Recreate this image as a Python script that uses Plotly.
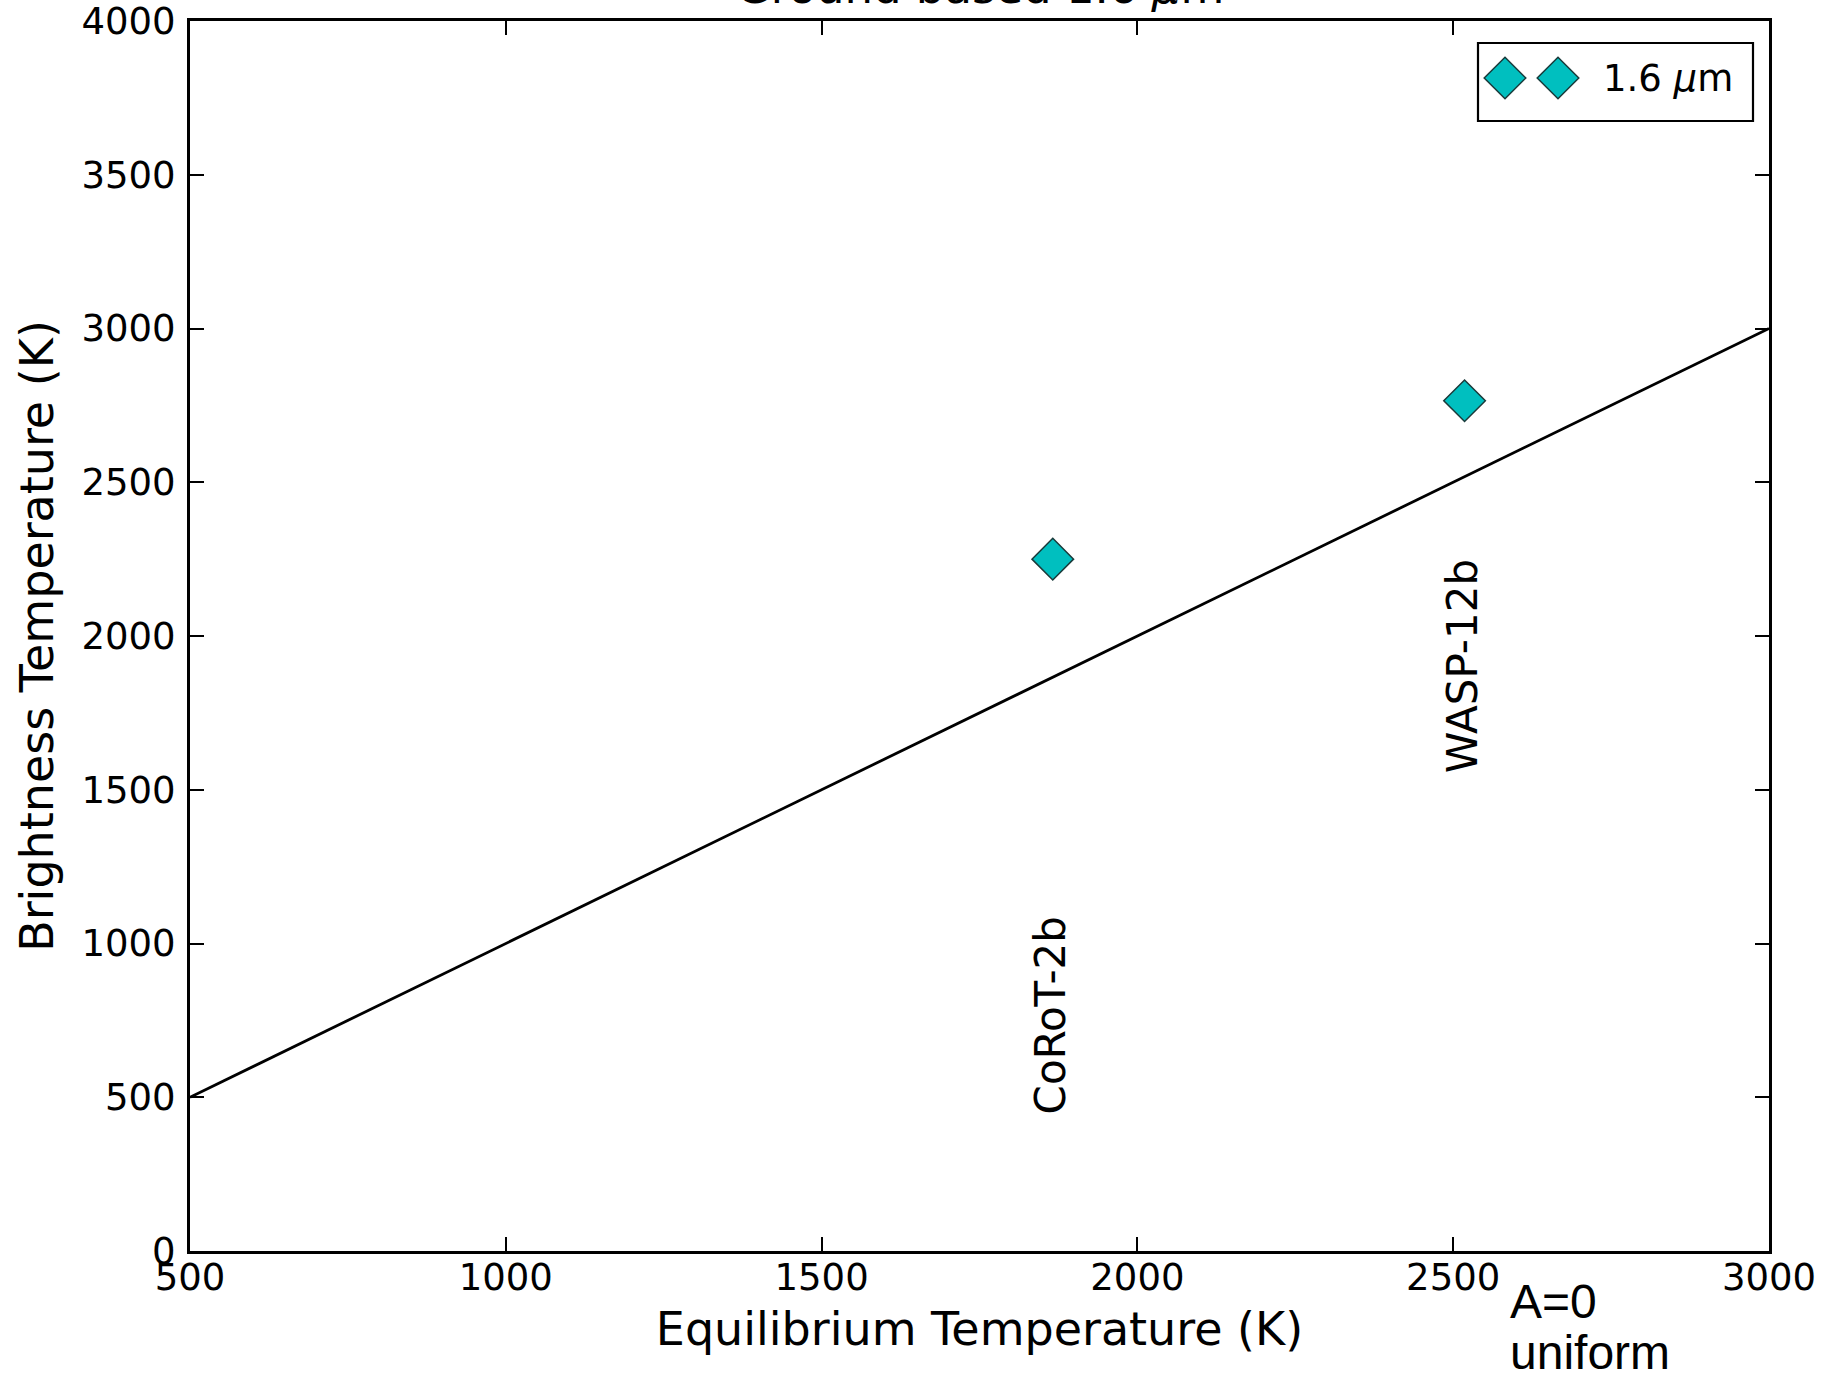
import plotly.graph_objects as go

# ---- data ----
planets = ["CoRoT-2b", "WASP-12b"]
t_eq = [1866, 2518]
t_bright = [2250, 2765]
label_y = [767, 1902]          # vertical centre of rotated planet labels (data units)
one_to_one_x = [500, 3000]
one_to_one_y = [500, 3000]
x_ticks = [500, 1000, 1500, 2000, 2500, 3000]
y_ticks = [0, 500, 1000, 1500, 2000, 2500, 3000, 3500, 4000]

W, H = 1822, 1382
L, R, T, B = 190, 1769, 21, 1251
PW, PH = R - L, B - T

def px(xp):
    return (xp - L) / PW

def py(yp):
    return (B - yp) / PH

FONT = "DejaVu Sans"
MCOL = "#00BFBF"
MLINE = "#1a3a3a"

fig = go.Figure()

fig.add_trace(go.Scatter(
    x=one_to_one_x, y=one_to_one_y, mode="lines",
    line=dict(color="black", width=2.8), showlegend=False, hoverinfo="skip"))

fig.add_trace(go.Scatter(
    x=t_eq, y=t_bright, mode="markers", name="1.6 μm",
    marker=dict(symbol="diamond", size=32, color=MCOL,
                line=dict(color=MLINE, width=1.5)),
    showlegend=False))

# planet labels
for name, xv, yv in zip(planets, t_eq, label_y):
    fig.add_annotation(x=xv - 4, y=yv, text=name, textangle=-90, showarrow=False,
                       xanchor="center", yanchor="middle",
                       font=dict(family=FONT, size=42, color="black"))

# manual legend with two markers (matplotlib numpoints=2 style)
fig.add_shape(type="rect", xref="paper", yref="paper",
              x0=px(1478), x1=px(1753), y0=py(121), y1=py(43),
              line=dict(color="black", width=2.2), fillcolor="white", layer="below")
fig.add_trace(go.Scatter(
    x=[px(1505), px(1558)], y=[py(78), py(78)], xaxis="x2", yaxis="y2",
    mode="markers", showlegend=False, hoverinfo="skip", cliponaxis=False,
    marker=dict(symbol="diamond", size=32, color=MCOL,
                line=dict(color=MLINE, width=1.5))))
fig.add_annotation(xref="paper", yref="paper", x=px(1601), y=py(78),
                   text="1.6 <i>μ</i>m", showarrow=False, xanchor="left", yanchor="middle",
                   font=dict(family=FONT, size=37, color="black"))

# title (mostly clipped at top)
fig.add_annotation(xref="paper", yref="paper", x=0.5, y=py(16),
                   text="Ground based 1.6 <i>μ</i>m", showarrow=False,
                   xanchor="center", yanchor="bottom",
                   font=dict(family=FONT, size=45, color="black"))

# A=0 uniform note
fig.add_annotation(xref="paper", yref="paper", x=px(1508), y=py(1273),
                   text="A=0", showarrow=False, xanchor="left", yanchor="top",
                   font=dict(family="Liberation Sans", size=48, color="black"))
fig.add_annotation(xref="paper", yref="paper", x=px(1508), y=py(1324),
                   text="uniform", showarrow=False, xanchor="left", yanchor="top",
                   font=dict(family="Liberation Sans", size=48, color="black"))

axis_common = dict(showgrid=False, zeroline=False, showline=True, linecolor="black",
                   linewidth=3, mirror="ticks", ticks="inside", ticklen=14,
                   tickwidth=1.6, tickcolor="black", automargin=False,
                   ticklabeloverflow="allow",
                   tickfont=dict(family=FONT, size=37, color="black"))

fig.update_layout(
    width=W, height=H,
    margin=dict(l=L, r=W - R, t=T, b=H - B),
    plot_bgcolor="white", paper_bgcolor="white",
    xaxis=dict(range=[500, 3000], tickvals=x_ticks, ticklabelstandoff=-8,
               title=dict(text="Equilibrium Temperature (K)",
                          font=dict(family=FONT, size=46, color="black"), standoff=15),
               **axis_common),
    yaxis=dict(range=[0, 4000], tickvals=y_ticks, ticklabelstandoff=4,
               title=dict(text="Brightness Temperature (K)",
                          font=dict(family=FONT, size=46, color="black"), standoff=14),
               **axis_common),
    xaxis2=dict(overlaying="x", range=[0, 1], visible=False),
    yaxis2=dict(overlaying="y", range=[0, 1], visible=False),
)

fig.write_html("out.html")
